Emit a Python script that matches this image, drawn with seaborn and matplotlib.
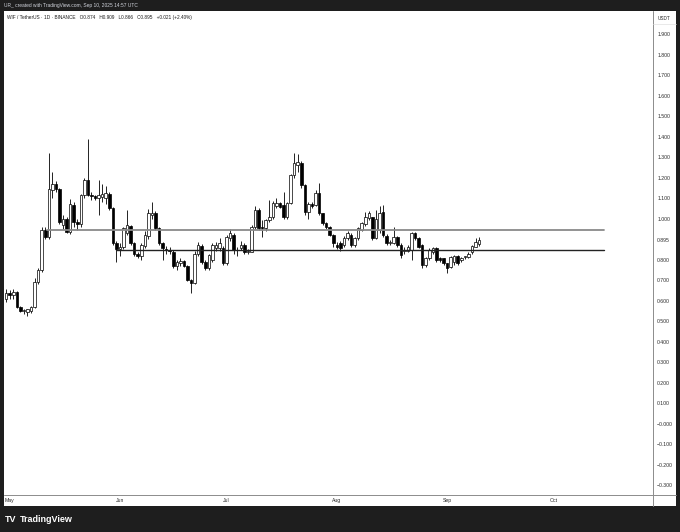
import matplotlib

matplotlib.use("Agg")
import matplotlib.dates as mdates
import matplotlib.pyplot as plt
import pandas as pd
import seaborn as sns
from matplotlib.lines import Line2D

# daily candles, starting 2025-04-30
first_day = "2025-04-30"
opens = [
    0.61, 0.635, 0.628, 0.64, 0.57, 0.55, 0.545, 0.55, 0.57, 0.69,
    0.75, 0.945, 0.912, 1.14, 1.17, 1.145, 0.97, 1.0, 0.935, 1.065,
    0.985, 0.975, 1.115, 1.19, 1.115, 1.11, 1.10, 1.105, 1.10, 1.12,
    1.05, 0.88, 0.85, 0.86, 0.93, 0.965, 0.88, 0.83, 0.82, 0.865,
    0.915, 1.02, 1.03, 0.955, 0.88, 0.85, 0.848, 0.835, 0.77, 0.785,
    0.795, 0.77, 0.70, 0.685, 0.83, 0.865, 0.79, 0.758, 0.80, 0.855,
    0.855, 0.855, 0.782, 0.904, 0.921, 0.847, 0.855, 0.872, 0.839, 0.839,
    0.961, 1.042, 0.961, 0.953, 0.994, 1.01, 1.06, 1.075, 1.067, 1.01,
    1.075, 1.213, 1.26, 1.27, 1.164, 1.034, 1.072, 1.067, 1.124, 1.026,
    0.977, 0.961, 0.921, 0.872, 0.88, 0.872, 0.904, 0.921, 0.872, 0.904,
    0.945, 0.974, 1.002, 1.006, 0.904, 0.945, 1.034, 0.916, 0.88, 0.88,
    0.912, 0.872, 0.84, 0.84, 0.847, 0.929, 0.904, 0.87, 0.774, 0.807,
    0.839, 0.855, 0.807, 0.807, 0.782, 0.766, 0.79, 0.818, 0.80, 0.812,
    0.815, 0.835, 0.864, 0.874,
]
highs = [
    0.655, 0.65, 0.655, 0.645, 0.575, 0.56, 0.56, 0.575, 0.71, 0.76,
    0.96, 0.96, 1.32, 1.23, 1.185, 1.15, 1.02, 1.01, 1.095, 1.08,
    1.0, 1.12, 1.2, 1.39, 1.13, 1.115, 1.19, 1.17, 1.16, 1.13,
    1.055, 0.89, 0.88, 0.96, 1.04, 0.97, 0.885, 0.835, 0.88, 0.94,
    1.045, 1.08, 1.035, 0.96, 0.885, 0.865, 0.86, 0.845, 0.80, 0.81,
    0.80, 0.775, 0.705, 0.84, 0.885, 0.875, 0.80, 0.83, 0.88, 0.885,
    0.905, 0.865, 0.92, 0.948, 0.93, 0.86, 0.89, 0.88, 0.85, 0.97,
    1.062, 1.05, 0.994, 1.0, 1.091, 1.085, 1.10, 1.08, 1.132, 1.08,
    1.22, 1.319, 1.315, 1.28, 1.17, 1.08, 1.08, 1.14, 1.173, 1.03,
    0.985, 0.965, 0.925, 0.885, 0.89, 0.915, 0.94, 0.93, 0.91, 0.96,
    0.985, 1.034, 1.038, 1.01, 1.042, 1.062, 1.067, 0.925, 0.895, 0.958,
    0.915, 0.88, 0.86, 0.87, 0.935, 0.935, 0.91, 0.875, 0.815, 0.855,
    0.86, 0.86, 0.815, 0.81, 0.785, 0.82, 0.825, 0.823, 0.815, 0.82,
    0.835, 0.87, 0.905, 0.909,
]
lows = [
    0.595, 0.61, 0.61, 0.565, 0.545, 0.535, 0.527, 0.54, 0.565, 0.68,
    0.74, 0.90, 0.90, 1.10, 1.13, 0.975, 0.95, 0.93, 0.925, 0.96,
    0.945, 0.96, 1.1, 1.11, 1.09, 1.09, 1.02, 1.08, 1.07, 1.04,
    0.87, 0.79, 0.82, 0.85, 0.92, 0.87, 0.82, 0.81, 0.80, 0.855,
    0.90, 1.0, 0.945, 0.87, 0.80, 0.83, 0.83, 0.76, 0.75, 0.77,
    0.765, 0.695, 0.636, 0.68, 0.82, 0.78, 0.75, 0.75, 0.79, 0.84,
    0.84, 0.775, 0.775, 0.89, 0.83, 0.82, 0.845, 0.83, 0.83, 0.835,
    0.95, 0.945, 0.912, 0.94, 0.985, 1.0, 1.05, 1.05, 1.0, 1.0,
    1.07, 1.2, 1.23, 1.15, 1.02, 1.0, 1.05, 1.06, 1.02, 0.97,
    0.95, 0.915, 0.86, 0.85, 0.84, 0.86, 0.895, 0.86, 0.86, 0.895,
    0.94, 0.965, 0.995, 0.895, 0.9, 0.93, 0.91, 0.87, 0.87, 0.875,
    0.86, 0.81, 0.83, 0.835, 0.80, 0.895, 0.855, 0.758, 0.765, 0.80,
    0.83, 0.79, 0.79, 0.775, 0.733, 0.76, 0.775, 0.775, 0.79, 0.805,
    0.81, 0.83, 0.86, 0.866,
]
closes = [
    0.635, 0.628, 0.64, 0.57, 0.55, 0.555, 0.56, 0.57, 0.69, 0.75,
    0.945, 0.912, 1.143, 1.17, 1.145, 0.985, 1.0, 0.935, 1.07, 0.985,
    0.975, 1.115, 1.19, 1.115, 1.11, 1.10, 1.115, 1.12, 1.125, 1.05,
    0.88, 0.85, 0.86, 0.955, 0.97, 0.88, 0.83, 0.818, 0.87, 0.92,
    1.03, 1.03, 0.955, 0.88, 0.855, 0.848, 0.842, 0.77, 0.79, 0.795,
    0.77, 0.70, 0.685, 0.83, 0.87, 0.79, 0.758, 0.823, 0.87, 0.872,
    0.88, 0.782, 0.912, 0.929, 0.847, 0.845, 0.872, 0.839, 0.842, 0.961,
    1.042, 0.953, 0.953, 0.994, 1.01, 1.075, 1.078, 1.059, 1.01, 1.075,
    1.213, 1.27, 1.275, 1.164, 1.034, 1.072, 1.062, 1.124, 1.026, 0.977,
    0.961, 0.921, 0.88, 0.86, 0.855, 0.904, 0.929, 0.872, 0.904, 0.953,
    0.977, 1.006, 1.026, 0.904, 0.997, 1.03, 0.921, 0.88, 0.882, 0.912,
    0.872, 0.823, 0.845, 0.864, 0.929, 0.904, 0.864, 0.774, 0.807, 0.847,
    0.855, 0.799, 0.799, 0.782, 0.758, 0.815, 0.818, 0.782, 0.808, 0.815,
    0.828, 0.866, 0.885, 0.895,
]

# drawn horizontal levels
resistance_level = 0.945
resistance_start = "2025-05-11 12:00"
support_level = 0.847
support_start = "2025-05-31"
levels_end = "2025-10-15"

price_ticks = [1.9, 1.8, 1.7, 1.6, 1.5, 1.4, 1.3, 1.2, 1.1, 1.0, 0.895,
               0.8, 0.7, 0.6, 0.5, 0.4, 0.3, 0.2, 0.1, 0.0, -0.1, -0.2, -0.3]
price_labels = ["1.900", "1.800", "1.700", "1.600", "1.500", "1.400",
                "1.300", "1.200", "1.100", "1.000", "0.895", "0.800",
                "0.700", "0.600", "0.500", "0.400", "0.300", "0.200",
                "0.100", "\u22120.000", "\u22120.100", "\u22120.200",
                "\u22120.300"]
month_starts = ["2025-05-01", "2025-06-01", "2025-07-01", "2025-08-01",
                "2025-09-01", "2025-10-01"]
month_labels = ["May", "Jun", "Jul", "Aug", "Sep", "Oct"]

header = "UR_ created with TradingView.com, Sep 10, 2025 14:57 UTC"
legend = ("WIF / TetherUS \u00b7 1D \u00b7 BINANCE   O0.874   H0.909   "
          "L0.866   C0.895   +0.021 (+2.40%)")

sns.set_theme(style="white")
plt.rcParams["font.family"] = ["Liberation Sans", "DejaVu Sans"]

df = pd.DataFrame({
    "date": pd.date_range(first_day, periods=len(opens), freq="D"),
    "open": opens, "high": highs, "low": lows, "close": closes,
})
df["x"] = mdates.date2num(df["date"])
df["up"] = df["close"] >= df["open"]
df["bottom"] = df[["open", "close"]].min(axis=1)
df["height"] = (df["close"] - df["open"]).abs().clip(lower=0.004)

W, H = 680, 532
dark = "#1e1e1e"
fig = plt.figure(figsize=(W / 100, H / 100), dpi=100, facecolor=dark)

# white chart panel (plot + axis strips)
bg = fig.add_axes([4 / W, 1 - 506 / H, 672 / W, 495 / H])
bg.set_facecolor("white")
bg.set_xticks([])
bg.set_yticks([])
for s in bg.spines.values():
    s.set_visible(False)

ax = fig.add_axes([4 / W, 1 - 495 / H, 649 / W, 484 / H])
ax.set_facecolor("white")

# wicks then bodies
ax.vlines(df["x"], df["low"], df["high"], color="black", lw=0.6, zorder=2)
ax.bar(df["x"], df["height"], bottom=df["bottom"], width=0.72,
       color=["white" if u else "black" for u in df["up"]],
       edgecolor="black", linewidth=0.5, zorder=3)

# horizontal levels
x_end = mdates.date2num(pd.Timestamp(levels_end))
sns.lineplot(x=[mdates.date2num(pd.Timestamp(resistance_start)), x_end],
             y=[resistance_level, resistance_level], ax=ax,
             color="#8a8a8a", lw=1.3, zorder=4)
sns.lineplot(x=[mdates.date2num(pd.Timestamp(support_start)), x_end],
             y=[support_level, support_level], ax=ax,
             color="#222222", lw=1.0, zorder=4)

may1 = mdates.date2num(pd.Timestamp("2025-05-01"))
ax.set_xlim(may1 - 1.6, may1 + 180.9)
ax.set_ylim(-0.348, 2.013)

ax.set_xticks(mdates.date2num(pd.to_datetime(month_starts)))
ax.set_xticklabels(month_labels)
ax.yaxis.tick_right()
ax.set_yticks(price_ticks)
ax.set_yticklabels(price_labels)
ax.tick_params(axis="both", length=0, labelsize=3.7, colors="#2a2a2a")
ax.tick_params(axis="y", pad=3)
ax.tick_params(axis="x", pad=2)
ax.set_xlabel("")
ax.set_ylabel("")
for s in ax.spines.values():
    s.set_visible(False)

# axis separators
sep = "#8c8c8c"
fig.add_artist(Line2D([653 / W, 653 / W], [1 - 506 / H, 1 - 11 / H],
                      color=sep, lw=0.7))
fig.add_artist(Line2D([4 / W, 676 / W], [1 - 495 / H, 1 - 495 / H],
                      color=sep, lw=0.7))
fig.add_artist(Line2D([653 / W, 676 / W], [1 - 24 / H, 1 - 24 / H],
                      color="#e0e0e0", lw=0.5))

fig.text(664 / W, 1 - 19 / H, "USDT", fontsize=3.4, color="#2a2a2a",
         ha="center", va="center")
fig.text(4 / W, 1 - 6 / H, header, fontsize=3.5, color="#d1d4dc",
         ha="left", va="center")
fig.text(7 / W, 1 - 17 / H, legend, fontsize=3.4, color="#1a1a1a",
         ha="left", va="center")

# footer logo
fig.text(5 / W, 1 - 520 / H, "TV", fontsize=6.5, color="white",
         fontweight="heavy", ha="left", va="center")
fig.text(20 / W, 1 - 520 / H, "TradingView", fontsize=6.5, color="white",
         fontweight="bold", ha="left", va="center")

fig.savefig("out.png", dpi=100, facecolor=dark)
